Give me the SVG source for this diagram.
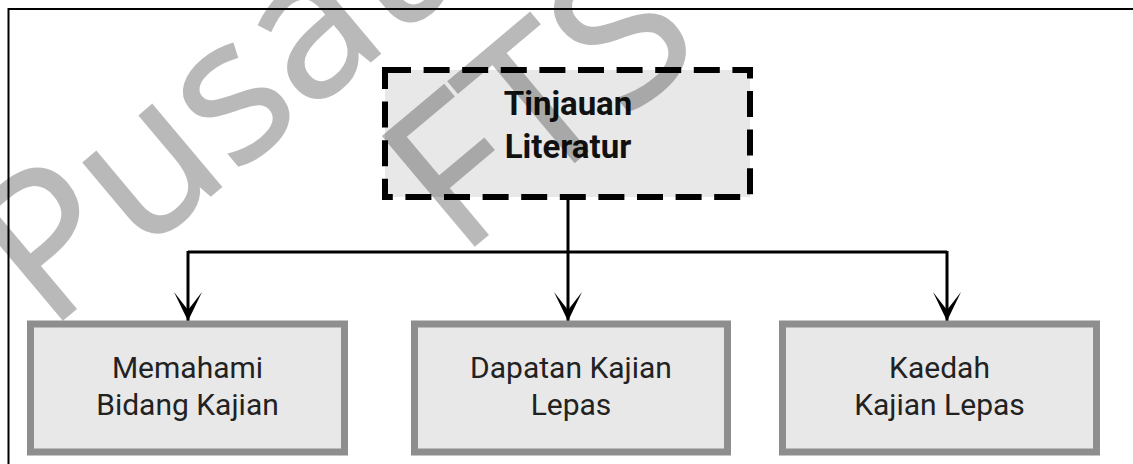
<svg xmlns="http://www.w3.org/2000/svg" width="1133" height="464" viewBox="0 0 1133 464">
  <style>
    .title { font-family: Roboto, "Liberation Sans", sans-serif; font-weight: bold; font-size: 33px; fill: #111; text-anchor: middle; }
    .label { font-family: Roboto, "Liberation Sans", sans-serif; font-size: 30px; fill: #222; text-anchor: middle; }
    .box { fill: #e8e8e8; stroke: #8e8e8e; stroke-width: 7; }
    .link { fill: none; stroke: #000; stroke-width: 3; }
    .mark { font-family: "Open Sans", "Noto Sans", sans-serif; font-size: 200px; fill: #000; stroke: #000; stroke-width: 2; }
  </style>
  <defs>
    <marker id="arrow" markerUnits="userSpaceOnUse" markerWidth="32" markerHeight="32" viewBox="-30 -16 32 32" refX="0" refY="0" orient="auto">
      <path d="M0,0 L-29,-14 L-11,0 L-29,14 Z" fill="#000"/>
    </marker>
  </defs>

  <rect width="1133" height="464" fill="#fff"/>

  <!-- outer frame (top and left edges) -->
  <path d="M8.5,470 V9 H1140" fill="none" stroke="#000" stroke-width="2"/>

  <g id="connectors">
    <path class="link" d="M568,200 V252"/>
    <path class="link" d="M188,252 H947"/>
    <path class="link" d="M188,251 V321" marker-end="url(#arrow)"/>
    <path class="link" d="M568,252 V321" marker-end="url(#arrow)"/>
    <path class="link" d="M947,251 V321" marker-end="url(#arrow)"/>
  </g>

  <g id="tinjauan-literatur">
    <rect x="385" y="70" width="365" height="127" fill="#e8e8e8" stroke="#000" stroke-width="6" stroke-dasharray="26 12.6"/>
    <text class="title" x="568" y="115">Tinjauan</text>
    <text class="title" x="568" y="158">Literatur</text>
  </g>

  <g id="memahami-bidang-kajian">
    <rect class="box" x="30.5" y="324" width="314" height="128"/>
    <text class="label" x="187.5" y="378">Memahami</text>
    <text class="label" x="187.5" y="415">Bidang Kajian</text>
  </g>

  <g id="dapatan-kajian-lepas">
    <rect class="box" x="414.5" y="324" width="313" height="128"/>
    <text class="label" x="571" y="378">Dapatan Kajian</text>
    <text class="label" x="571" y="415">Lepas</text>
  </g>

  <g id="kaedah-kajian-lepas">
    <rect class="box" x="782.5" y="324" width="314" height="128"/>
    <text class="label" x="939.5" y="378">Kaedah</text>
    <text class="label" x="939.5" y="415">Kajian Lepas</text>
  </g>

  <!-- diagonal watermark, translucent over the drawing -->
  <g id="watermark" opacity="0.27">
    <text class="mark" transform="translate(48,332) rotate(-40)">Pusat</text>
    <text class="mark" transform="translate(460,258) rotate(-40)">FTS</text>
  </g>
</svg>
